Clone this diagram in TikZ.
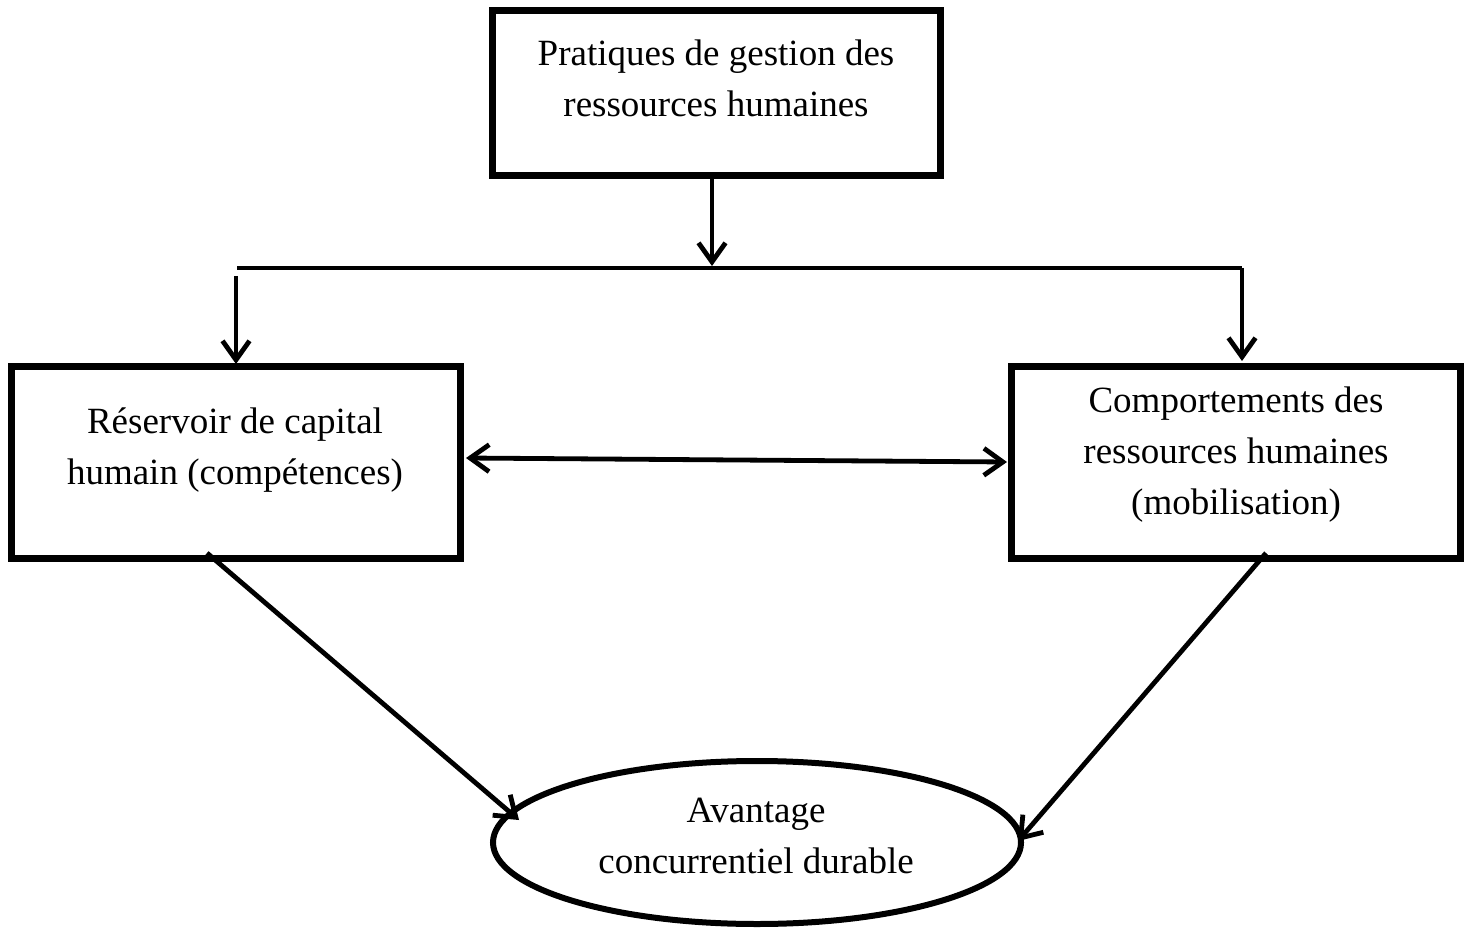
\documentclass[tikz,border=0pt]{standalone}
\usepackage{fontspec}
\setmainfont{Liberation Serif}
\usetikzlibrary{arrows.meta,shapes.geometric}
\begin{document}
\begin{tikzpicture}[x=0.5pt,y=-0.5pt,
  box/.style={draw,line width=3.5pt,inner sep=0pt,outer sep=0pt},
  oval/.style={draw,ellipse,line width=3pt,inner sep=0pt,outer sep=0pt,
    minimum width=264pt,minimum height=81.5pt},
  lbl/.style={font=\fontsize{18.5}{25.5}\selectfont,align=center,inner sep=0pt},
  conn/.style={line width=2.4pt},
  arr/.style={conn,-{Straight Barb[length=9.5pt,width=13.5pt]}},
  darr/.style={conn,{Straight Barb[length=9.5pt,width=13.5pt]}-{Straight Barb[length=9.5pt,width=13.5pt]}}]
\useasboundingbox (0,0) rectangle (1470,929);

% boxes and ellipse
\node[box,minimum width=224pt,minimum height=82.5pt] (P) at (716,93.5) {};
\node[box,minimum width=224.5pt,minimum height=96pt] (R) at (236,462.5) {};
\node[box,minimum width=224.5pt,minimum height=96pt] (C) at (1236,462.5) {};
\node[oval] (A) at (757,842.5) {};

% labels (anchored on the baseline of their last line)
\node[lbl,anchor=base] (Pt) at (716,117) {Pratiques de gestion des\\ressources humaines};
\node[lbl,anchor=base] (Rt) at (235,485) {Réservoir de capital\\humain (compétences)};
\node[lbl,anchor=base] (Ct) at (1236,515) {Comportements des\\ressources humaines\\(mobilisation)};
\node[lbl,anchor=base] (At) at (756,873) {Avantage\\concurrentiel durable};

% branching from the top box
\coordinate (Pj) at (712,266);
\coordinate (bl) at (237,268);
\coordinate (br) at (1242,268);
\coordinate (ls) at (236,276);
\coordinate (lt) at (236,364);
\coordinate (rt) at (1242,361);
\draw[arr] (P.south -| Pj) -- (Pj);
\draw[conn] (bl) -- (br);
\draw[arr] (br) -- (rt);
\draw[arr] (ls) -- (lt);

% mutual link between the two middle boxes
\coordinate (dl) at (466,458);
\coordinate (dr) at (1007,462);
\draw[darr] (dl) -- (dr);

% links to the ellipse
\coordinate (rs) at (207,553);
\coordinate (re) at (519,820);
\coordinate (cs) at (1266,553);
\coordinate (ce) at (1018,841);
\draw[arr] (rs) -- (re);
\draw[arr] (cs) -- (ce);
\end{tikzpicture}
\end{document}
